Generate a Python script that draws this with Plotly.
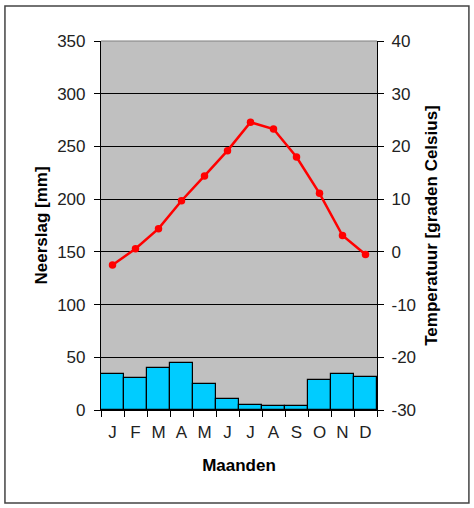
import plotly.graph_objects as go

# klimaatdiagram: neerslag (staven) en temperatuur (lijn)
months = ["jan", "feb", "mrt", "apr", "mei", "jun", "jul", "aug", "sep", "okt", "nov", "dec"]
month_labels = ["J", "F", "M", "A", "M", "J", "J", "A", "S", "O", "N", "D"]
neerslag = [34, 30, 40, 45, 25, 10, 5, 3.5, 3.5, 28.5, 34, 31]
temperatuur = [-2.5, 0.6, 4.4, 9.7, 14.4, 19.2, 24.6, 23.3, 18, 11.1, 3.1, -0.5]
temp_ticks = [-30, -20, -10, 0, 10, 20, 30, 40]
temp_labels = ["-30", "-20", "-10", "0", "10", "20", "30", "40"]

font = "Liberation Sans, Arial, sans-serif"

fig = go.Figure()
fig.add_trace(go.Bar(x=months, y=neerslag, name="Neerslag",
                     marker_color="#00CCFF",
                     marker_line=dict(color="black", width=1.2)))
fig.add_trace(go.Scatter(x=months, y=temperatuur, name="Temperatuur", yaxis="y2",
                         mode="lines+markers",
                         line=dict(color="#FF0000", width=2.5),
                         marker=dict(color="#FF0000", size=7.5)))

fig.update_layout(
    width=474, height=508,
    margin=dict(l=101, r=97, t=41, b=98),
    plot_bgcolor="#C0C0C0", paper_bgcolor="white",
    bargap=0, showlegend=False,
    font=dict(family=font, size=17, color="#222222"),
    xaxis=dict(type="category", tickvals=months, ticktext=month_labels, tickangle=0,
               tickson="boundaries", ticks="outside", ticklen=6, tickcolor="black",
               ticklabelstandoff=6,
               showline=True, linecolor="black", linewidth=1.2, automargin=False,
               showgrid=False, range=[-0.5, 11.5],
               title=dict(text="<b>Maanden</b>", font=dict(size=17, color="black"), standoff=18)),
    yaxis=dict(range=[0, 350], dtick=50, ticks="outside", ticklen=6, tickcolor="black",
               ticklabelstandoff=5,
               showline=True, linecolor="black", linewidth=1.2, automargin=False,
               showgrid=True, gridcolor="black", gridwidth=1, zeroline=False,
               title=dict(text="<b>Neerslag [mm]</b>", font=dict(size=17, color="black"), standoff=5)),
    yaxis2=dict(range=[-30, 40], tickvals=temp_ticks, ticktext=temp_labels, overlaying="y", side="right",
                ticks="outside", ticklen=6, tickcolor="black", ticklabelstandoff=4,
                showline=True, linecolor="black", linewidth=1.2, automargin=False,
                showgrid=False, zeroline=False,
                title=dict(text="<b>Temperatuur [graden Celsius]</b>", font=dict(size=17, color="black"), standoff=10)),
    shapes=[
        # grijze bovenrand van het plotgebied
        dict(type="line", xref="paper", yref="paper", x0=0, x1=1, y0=1, y1=1,
             line=dict(color="#808080", width=1.2), layer="above"),
        # kader rond de hele grafiek
        dict(type="rect", xref="paper", yref="paper",
             x0=-0.348, x1=1.333, y0=-0.252, y1=1.095,
             line=dict(color="#444444", width=1.5)),
    ],
)

# geen standaardmarge van de pagina rond de figuur
fig.write_html("out.html", config={"displayModeBar": False},
               post_script="document.body.style.margin='0';")
